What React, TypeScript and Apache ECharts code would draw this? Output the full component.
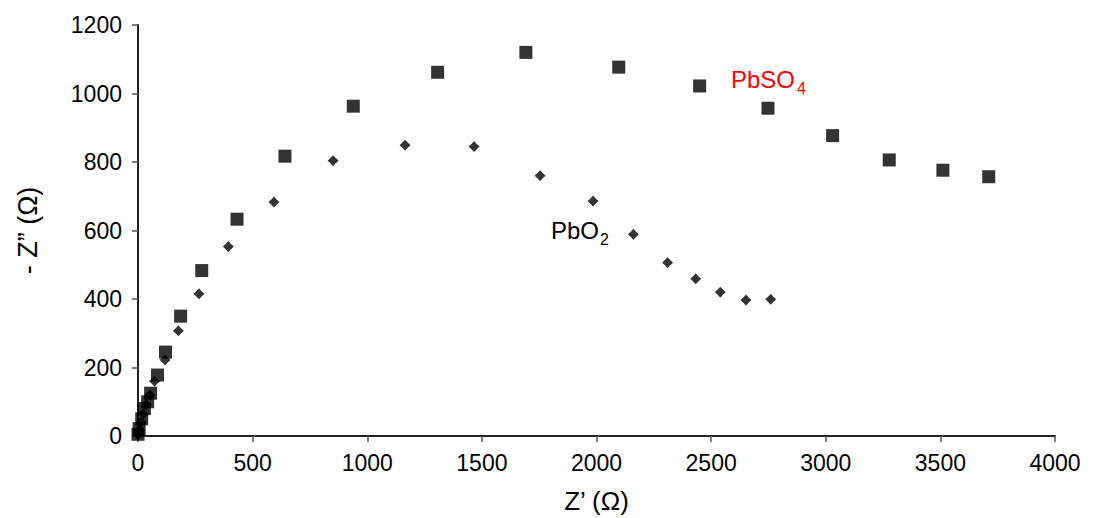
import React, { useEffect, useRef } from "react";
import * as echarts from "echarts";

// Z' (Ω), -Z'' (Ω)
const pbso4Data: [number, number][] = [
  [0, 5], [5, 22], [16, 50], [28, 80], [42, 100], [55, 125], [85, 178], [120, 245],
  [186, 350], [278, 483], [432, 633], [641, 817], [939, 963], [1307, 1062],
  [1692, 1120], [2097, 1077], [2450, 1022], [2748, 957], [3030, 877],
  [3277, 806], [3511, 776], [3711, 757],
];

const pbo2Data: [number, number][] = [
  [0, 3], [6, 18], [14, 40], [24, 65], [36, 92], [52, 120], [72, 160], [118, 222],
  [176, 307], [266, 415], [394, 553], [593, 683], [851, 804], [1165, 849],
  [1466, 845], [1754, 760], [1985, 686], [2161, 589], [2310, 506], [2433, 459],
  [2540, 420], [2652, 397], [2760, 399],
];

const xTicks = { min: 0, max: 4000, interval: 500 };
const yTicks = { min: 0, max: 1200, interval: 200 };

const FONT = "'Liberation Sans', Arial, sans-serif";

export default function App() {
  const ref = useRef<HTMLDivElement>(null);
  useEffect(() => {
    if (!ref.current) return;
    const chart = echarts.init(ref.current, undefined, { renderer: "svg" });
    chart.setOption({
      animation: false,
      backgroundColor: "#ffffff",
      grid: { left: 138, right: 38, top: 25, bottom: 82, outerBoundsMode: "none", containLabel: false },
      xAxis: {
        type: "value",
        min: xTicks.min,
        max: xTicks.max,
        interval: xTicks.interval,
        name: "Z\u2019 (\u03A9)",
        nameLocation: "middle",
        nameGap: 52,
        nameTextStyle: { fontFamily: FONT, fontSize: 26, color: "#000" },
        splitLine: { show: false },
        axisLine: { show: true, lineStyle: { color: "#222", width: 2 } },
        axisTick: { show: true, length: 6, lineStyle: { color: "#555", width: 1.5 } },
        axisLabel: {
          fontFamily: FONT, fontSize: 23, color: "#000", margin: 15,
          formatter: (v: number) => String(v),
        },
      },
      yAxis: {
        type: "value",
        min: yTicks.min,
        max: yTicks.max,
        interval: yTicks.interval,
        name: "- Z\u201D (\u03A9)",
        nameLocation: "middle",
        nameGap: 97,
        nameTextStyle: { fontFamily: FONT, fontSize: 27, color: "#000" },
        splitLine: { show: false },
        axisLine: { show: true, lineStyle: { color: "#222", width: 2 } },
        axisTick: { show: true, length: 6, lineStyle: { color: "#555", width: 1.5 } },
        axisLabel: {
          fontFamily: FONT, fontSize: 23, color: "#000", margin: 16,
          formatter: (v: number) => String(v),
        },
      },
      series: [
        {
          name: "PbSO4",
          type: "scatter",
          data: pbso4Data,
          symbol: "rect",
          symbolSize: 13,
          itemStyle: { color: "#000" },
          z: 2,
        },
        {
          name: "PbO2",
          type: "scatter",
          data: pbo2Data,
          symbol: "path://M0,-5 L2.4,-2.4 L5,0 L2.4,2.4 L0,5 L-2.4,2.4 L-5,0 L-2.4,-2.4 Z",
          symbolSize: 11,
          itemStyle: { color: "#000" },
          z: 3,
        },
      ],
      graphic: [
        {
          type: "text",
          x: 731,
          y: 79,
          style: { text: "PbSO", fontFamily: FONT, fontSize: 24, fill: "#ff0000", verticalAlign: "middle" },
        },
        {
          type: "text",
          x: 797,
          y: 88,
          style: { text: "4", fontFamily: FONT, fontSize: 16, fill: "#ff0000", verticalAlign: "middle" },
        },
        {
          type: "text",
          x: 551,
          y: 230,
          style: { text: "PbO", fontFamily: FONT, fontSize: 24, fill: "#000", verticalAlign: "middle" },
        },
        {
          type: "text",
          x: 600,
          y: 239,
          style: { text: "2", fontFamily: FONT, fontSize: 16, fill: "#000", verticalAlign: "middle" },
        },
      ],
    });
    return () => chart.dispose();
  }, []);
  return (
    <div
      ref={ref}
      style={{ position: "absolute", left: 0, top: 0, width: 1093, height: 518 }}
    />
  );
}
